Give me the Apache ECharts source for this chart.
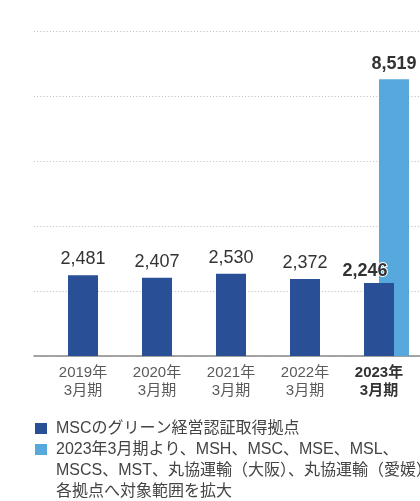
<!DOCTYPE html>
<html>
<head>
<meta charset="utf-8">
<script src="https://cdn.jsdelivr.net/npm/echarts@6/dist/echarts.min.js"></script>
<style>
  html, body { margin: 0; padding: 0; background: #fff; }
  #chart { width: 420px; height: 501px; }
</style>
</head>
<body>
<div id="chart"></div>
<script>
// categories
const years = ['2019年', '2020年', '2021年', '2022年', '2023年']
const periods = ['3月期', '3月期', '3月期', '3月期', '3月期']
// MSCのグリーン経営認証取得拠点
const mscSites = [2481, 2407, 2530, 2372, 2246]
// 2023年3月期より対象範囲を拡大
const expandedSites = [null, null, null, null, 8519]
const legendNames = [
  'MSCのグリーン経営認証取得拠点',
  '2023年3月期より、MSH、MSC、MSE、MSL、\nMSCS、MST、丸協運輸（大阪）、丸協運輸（愛媛）の\n各拠点へ対象範囲を拡大'
]

const FONT = '"Liberation Sans", "Noto Sans CJK JP", sans-serif'
const DARK = '#294f96'
const LIGHT = '#56a8dd'

let chart = echarts.init(document.getElementById('chart'))
let categories = years.map((y, i) => y + '\n' + periods[i])

let gridBox = {top: 31, height: 325, outerBoundsMode: 'none'}

let option = {
  animation: false,
  grid: [
    Object.assign({left: 46, width: 370}, gridBox),
    Object.assign({left: 61, width: 370}, gridBox),
    Object.assign({left: 34, right: 0}, gridBox)
  ],
  xAxis: [
    {
      type: 'category', gridIndex: 0, data: categories,
      axisLine: {show: false}, axisTick: {show: false},
      axisLabel: {
        margin: 8,
        formatter: function (v, i) {
          let lines = v.split('\n')
          let st = i === years.length - 1 ? 'b' : 'a'
          return '{' + st + '|' + lines[0] + '}\n{' + st + '|' + lines[1] + '}'
        },
        rich: {
          a: {fontFamily: FONT, fontSize: 15, color: '#5a5a5a', lineHeight: 18},
          b: {fontFamily: FONT, fontSize: 15, fontWeight: 'bold', color: '#333', lineHeight: 18}
        }
      }
    },
    {
      type: 'category', gridIndex: 1, data: categories, show: false
    },
    {
      type: 'value', gridIndex: 2, min: 0, max: 1,
      axisLabel: {show: false}, axisTick: {show: false}, splitLine: {show: false},
      axisLine: {show: true, onZero: false, lineStyle: {color: '#888', width: 1.5}}
    }
  ],
  yAxis: [0, 1, 2].map(i => ({
    type: 'value', gridIndex: i, min: 0, max: 10000, interval: 2000,
    axisLine: {show: false}, axisTick: {show: false}, axisLabel: {show: false},
    splitLine: i === 2
      ? {show: true, lineStyle: {color: '#bdbdbd', width: 1, type: [1, 2.2]}}
      : {show: false}
  })),
  series: [
    {
      name: legendNames[1],
      type: 'bar',
      xAxisIndex: 1, yAxisIndex: 1,
      barWidth: 30,
      z: 2,
      itemStyle: {color: LIGHT},
      label: {
        show: true, position: 'top', distance: 6,
        formatter: p => p.value.toLocaleString('en-US'),
        fontFamily: FONT, fontSize: 18, fontWeight: 'bold', color: '#333'
      },
      data: expandedSites
    },
    {
      name: legendNames[0],
      type: 'bar',
      xAxisIndex: 0, yAxisIndex: 0,
      barWidth: 30,
      z: 3,
      itemStyle: {color: DARK},
      label: {
        show: true, position: 'top', distance: 7,
        formatter: p => p.value.toLocaleString('en-US'),
        fontFamily: FONT, fontSize: 18, color: '#333'
      },
      data: mscSites.map((v, i) => i === mscSites.length - 1
        ? {value: v, label: {fontWeight: 'bold', distance: 3, offset: [-14, 0],
            textBorderColor: '#fff', textBorderWidth: 2}}
        : v)
    }
  ],
  graphic: [
    {type: 'rect', left: 35, top: 423, shape: {width: 12, height: 11}, style: {fill: DARK}},
    {type: 'rect', left: 35, top: 444, shape: {width: 12, height: 11}, style: {fill: LIGHT}},
    {
      type: 'text', left: 56, top: 418,
      style: {
        text: legendNames[0] + '\n' + legendNames[1],
        font: '16px ' + FONT, fill: '#444', lineHeight: 21
      }
    }
  ]
}

chart.setOption(option)
</script>
</body>
</html>
